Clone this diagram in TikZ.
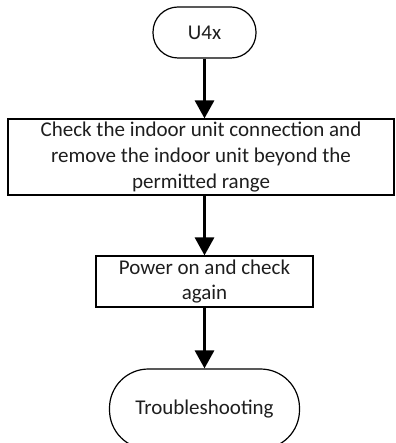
\documentclass[tikz,border=0pt]{standalone}
\usepackage{fontspec}
\setmainfont{Carlito}
\usepackage{tikz}
\usetikzlibrary{arrows.meta, positioning}
\definecolor{TextGray}{RGB}{30,30,30}

\begin{document}
\begin{tikzpicture}[
  x=1pt, y=1pt,
  font=\fontsize{21}{25.6}\selectfont,
  term/.style={draw, line width=1.2pt, inner sep=0pt, align=center, text=TextGray},
  box/.style={draw, line width=1.2pt, inner sep=0pt, align=center, text=TextGray},
  arr/.style={-{Triangle[length=18pt, width=19pt]}, line width=3pt}
]
  \useasboundingbox (0,0) rectangle (395,-443);

  % start and end terminators
  \node[term, rounded corners=25pt, minimum width=103pt, minimum height=51pt] (start) at (204.5,-32.5) {U4x};
  \node[term, rounded corners=39pt, minimum width=190pt, minimum height=80pt] (trouble) at (204.5,-409) {Troubleshooting};

  % process steps
  \node[box, minimum width=386pt, minimum height=76pt] (check) at (201,-157)
    {Check the indoor unit connection and\\remove the indoor unit beyond the\\permitted range};
  \node[box, minimum width=217pt, minimum height=51pt] (power) at (204.5,-281.5)
    {Power on and check\\again};

  \draw[arr] (start.south) -- (start.south |- check.north);
  \draw[arr] (start.south |- check.south) -- (start.south |- power.north);
  \draw[arr] (power.south) -- (trouble.north);
\end{tikzpicture}
\end{document}
